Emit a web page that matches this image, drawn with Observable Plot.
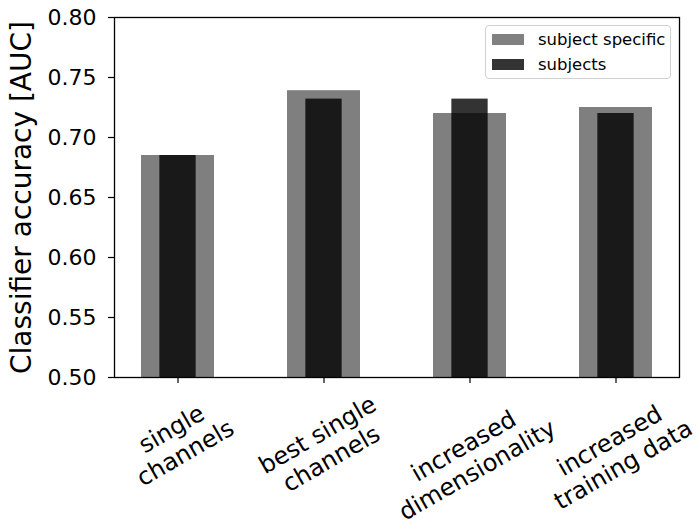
<!DOCTYPE html>
<html>
<head>
<meta charset="utf-8">
<script src="https://cdn.jsdelivr.net/npm/d3@7"></script>
<script src="https://cdn.jsdelivr.net/npm/@observablehq/plot@0.6"></script>
<style>
  body { margin: 0; background: white; }
  #wrap { position: relative; width: 696px; height: 523px; font-family: "DejaVu Sans", sans-serif; }
  #legend { position: absolute; left: 485px; top: 25px; width: 184px; height: 52px; border: 1px solid #d0d0d0; border-radius: 4px; background: rgba(255,255,255,0.8); }
  .item { position: absolute; left: 0; height: 20px; display: flex; align-items: center; font-size: 16.5px; color: #000; }
  .sw { width: 32px; height: 11px; margin-left: 6px; margin-right: 14px; }
</style>
</head>
<body>
<div id="wrap"></div>
<script>
const categories = ["single\nchannels", "best single\nchannels", "increased\ndimensionality", "increased\ntraining data"];
const subjectSpecific = [0.685, 0.739, 0.720, 0.725];
const subjects = [0.685, 0.732, 0.732, 0.720];
const yTicks = [0.50, 0.55, 0.60, 0.65, 0.70, 0.75, 0.80];
const seriesNames = ["subject specific", "subjects"];

const data = categories.map((c, i) => ({category: c, specific: subjectSpecific[i], subjects: subjects[i]}));

const W = 696, H = 523, mL = 114, mR = 17, mT = 17, mB = 146;
const step = (W - mL - mR) / (4 - 0.5 + 2 * 0.175);
const inset = step * 0.5 / 4;

const xFont = 24;
const ctx = document.createElement("canvas").getContext("2d");
ctx.font = xFont + "px 'DejaVu Sans'";
const pad = 12;
function labelDy(label) {
  const lines = label.split("\n");
  const w = Math.max(...lines.map(l => ctx.measureText(l).width));
  const h = lines.length * xFont * 1.15;
  const a = Math.PI / 6;
  return pad + (w * Math.sin(a) + h * Math.cos(a)) / 2;
}

const chart = Plot.plot({
  width: W, height: H,
  marginLeft: mL, marginRight: mR, marginTop: mT, marginBottom: mB,
  style: {fontFamily: "DejaVu Sans", color: "black", background: "white"},
  x: {type: "band", domain: categories, paddingInner: 0.5, paddingOuter: 0.175},
  y: {domain: [0.5, 0.8]},
  marks: [
    Plot.barY(data, {x: "category", y: "specific", fill: "black", fillOpacity: 0.5, clip: true}),
    Plot.barY(data, {x: "category", y: "subjects", fill: "black", fillOpacity: 0.8, insetLeft: inset, insetRight: inset, clip: true}),
    Plot.axisY({ticks: yTicks, tickFormat: d3.format(".2f"), tickSize: 6, tickPadding: 12, fontSize: 22, label: null, strokeWidth: 1.2}),
    Plot.axisX({tickSize: 6, tickFormat: () => "", label: null, strokeWidth: 1.2}),
    ...categories.map(c => Plot.text([c], {x: d => d, text: d => d, frameAnchor: "bottom", dy: labelDy(c), rotate: -30, textAnchor: "middle", lineAnchor: "middle", lineHeight: 1.15, fontSize: xFont, fill: "black"})),
    Plot.text(["Classifier accuracy [AUC]"], {text: d => d, frameAnchor: "left", dx: -92, rotate: -90, lineAnchor: "middle", textAnchor: "middle", fontSize: 28, fill: "black"}),
    Plot.frame({stroke: "black", strokeWidth: 1.3})
  ]
});

const wrap = document.getElementById("wrap");
wrap.appendChild(chart);

const legend = document.createElement("div");
legend.id = "legend";
const swatchColors = ["rgb(128,128,128)", "rgb(51,51,51)"];
seriesNames.forEach((name, i) => {
  const item = document.createElement("div");
  item.className = "item";
  item.style.top = (i === 0 ? 3 : 28) + "px";
  const sw = document.createElement("div");
  sw.className = "sw";
  sw.style.background = swatchColors[i];
  item.appendChild(sw);
  const t = document.createElement("span");
  t.textContent = name;
  item.appendChild(t);
  legend.appendChild(item);
});
wrap.appendChild(legend);
</script>
</body>
</html>
